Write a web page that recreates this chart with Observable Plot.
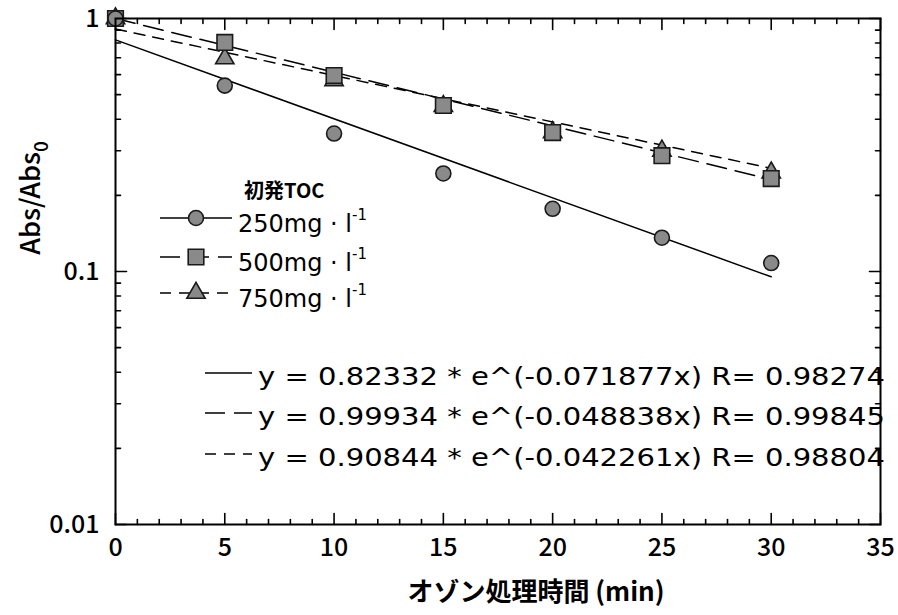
<!DOCTYPE html>
<html>
<head>
<meta charset="utf-8">
<script src="https://cdn.jsdelivr.net/npm/d3@7"></script>
<script src="https://cdn.jsdelivr.net/npm/@observablehq/plot@0.6"></script>
<style>
  html, body { margin: 0; padding: 0; background: white; }
</style>
</head>
<body>
<div id="chart"></div>
<script>
// ---- data ----
const times = [0, 5, 10, 15, 20, 25, 30];
const toc250 = [1.0, 0.543, 0.351, 0.244, 0.177, 0.136, 0.108];
const toc500 = [1.0, 0.804, 0.595, 0.453, 0.354, 0.287, 0.233];
const toc750 = [1.0, 0.695, 0.569, 0.45, 0.355, 0.30, 0.246];
const seriesNames = ["250mg", "500mg", "750mg"];
const fitA = [0.82332, 0.99934, 0.90844];
const fitK = [-0.071877, -0.048838, -0.042261];
const fitR = [0.98274, 0.99845, 0.98804];
const fitRange = [0, 30];
const xMajorTicks = [0, 5, 10, 15, 20, 25, 30, 35];
const yMajorTicks = [0.01, 0.1, 1];
const yTickLabels = ["0.01", "0.1", "1"];
const xLabel = "オゾン処理時間 (min)";
const legendTitle = "初発TOC";

// ---- styles ----
const FONT = "'Noto Sans CJK JP', 'Noto Sans', sans-serif";
const LFONT = "'DejaVu Sans', 'Noto Sans', sans-serif";
const markerFill = "#8a8a8a";
const markerStroke = "#1a1a1a";
const dashes = [null, "20,9", "11,8"];
const symbols = ["circle", "square", "triangle"];
const radii = [7.5, 8.8, 6.8];

const pts = (vals, s) => times.map((t, i) => ({t, v: vals[i], s}));
const dataSets = [pts(toc250, 0), pts(toc500, 1), pts(toc750, 2)];
const fitLines = fitA.map((a, i) => fitRange.map(t => ({t, v: a * Math.exp(fitK[i] * t), s: i})));

const xMinor = d3.range(0, 36).filter(d => d % 5 !== 0);
const yMinor = [0.01, 0.1].flatMap(b => d3.range(2, 10).map(m => b * m));

const tickShape = {draw(ctx, l) { ctx.moveTo(0, 0); ctx.lineTo(0, -l); }};
const ticks = (data, chan, anchor, rotate, len) =>
  Plot.vector(data, {[chan]: d => d, frameAnchor: anchor, rotate, length: len, anchor: "start",
    shape: tickShape, stroke: "black", strokeWidth: 1.6});

const chart = Plot.plot({
  width: 898, height: 615,
  marginLeft: 115, marginRight: 18, marginTop: 18, marginBottom: 91,
  style: {fontFamily: FONT, background: "white", color: "black", overflow: "visible"},
  x: {domain: [0, 35], axis: null},
  y: {type: "log", domain: [0.01, 1], axis: null},
  marks: [
    // ticks (inward)
    ticks(xMinor, "x", "bottom", 0, 5),
    ticks(xMajorTicks, "x", "bottom", 0, 11),
    ticks(xMinor, "x", "top", 180, 5),
    ticks(xMajorTicks, "x", "top", 180, 11),
    ticks(yMinor, "y", "left", 90, 5),
    ticks(yMajorTicks, "y", "left", 90, 11),
    ticks(yMinor, "y", "right", -90, 5),
    ticks(yMajorTicks, "y", "right", -90, 11),
    // tick labels
    Plot.text(xMajorTicks, {x: d => d, frameAnchor: "bottom", dy: 31, text: d => String(d),
      fontSize: 25, fontWeight: 500, fill: "black"}),
    Plot.text(yMajorTicks, {y: d => d, frameAnchor: "left", dx: -16, textAnchor: "end",
      text: (d, i) => yTickLabels[i], fontSize: 25, fontWeight: 500, fill: "black"}),
    // fit lines
    ...fitLines.map((L, i) => Plot.line(L, {x: "t", y: "v", stroke: "black", strokeWidth: 1.5,
      strokeDasharray: dashes[i]})),
    // markers (triangles behind squares, circles on top of those)
    ...[2, 1, 0].map(i => Plot.dot(dataSets[i], {x: "t", y: "v", symbol: symbols[i], r: radii[i],
      fill: markerFill, stroke: markerStroke, strokeWidth: 1.6})),
    Plot.frame({stroke: "black", strokeWidth: 2})
  ]
});

document.getElementById("chart").appendChild(chart);

// ---- labels & legends ----
const svg = d3.select(chart);
const g = svg.append("g").attr("font-family", FONT).attr("fill", "black").attr("text-anchor", "start");

// x label
g.append("text").attr("x", 536).attr("y", 601).attr("text-anchor", "middle")
  .attr("font-size", 26).attr("font-weight", 700).text(xLabel);

// y label
const yl = g.append("text").attr("transform", "translate(40,198) rotate(-90)")
  .attr("text-anchor", "middle").attr("font-size", 27).attr("font-weight", 500);
yl.append("tspan").text("Abs/Abs");
yl.append("tspan").attr("font-size", 19).attr("dy", 8).text("0");

// marker legend
g.append("text").attr("x", 244).attr("y", 198)
  .attr("font-size", 20).attr("font-weight", 700).text(legendTitle);
const legY = [218, 257, 293];
const symMap = {circle: d3.symbolCircle, square: d3.symbolSquare, triangle: d3.symbolTriangle};
seriesNames.forEach((name, i) => {
  const y = legY[i];
  g.append("line").attr("x1", 160).attr("x2", 232).attr("y1", y).attr("y2", y)
    .attr("stroke", "black").attr("stroke-width", 1.5)
    .attr("stroke-dasharray", dashes[i]);
  const r = radii[i];
  g.append("path").attr("transform", `translate(196,${y})`)
    .attr("d", d3.symbol(symMap[symbols[i]], Math.PI * r * r)())
    .attr("fill", markerFill).attr("stroke", markerStroke).attr("stroke-width", 1.6);
  const t = g.append("text").attr("x", 238).attr("y", y + 14).attr("font-family", LFONT)
    .attr("font-size", 24);
  t.append("tspan").text(name + " \u00b7 l");
  t.append("tspan").attr("font-size", 15).attr("dy", -12).text("-1");
});

// fit legend
const fitY = [373, 413, 454];
fitA.forEach((a, i) => {
  const y = fitY[i];
  g.append("line").attr("x1", 205).attr("x2", 252).attr("y1", y).attr("y2", y)
    .attr("stroke", "black").attr("stroke-width", 1.5)
    .attr("stroke-dasharray", dashes[i]);
  g.append("text").attr("x", 258).attr("y", y + 12).attr("font-family", LFONT).attr("font-size", 24)
    .attr("textLength", 627).attr("lengthAdjust", "spacingAndGlyphs")
    .text(`y = ${a} * e^(${fitK[i]}x) R= ${fitR[i]}`);
});
</script>
</body>
</html>
